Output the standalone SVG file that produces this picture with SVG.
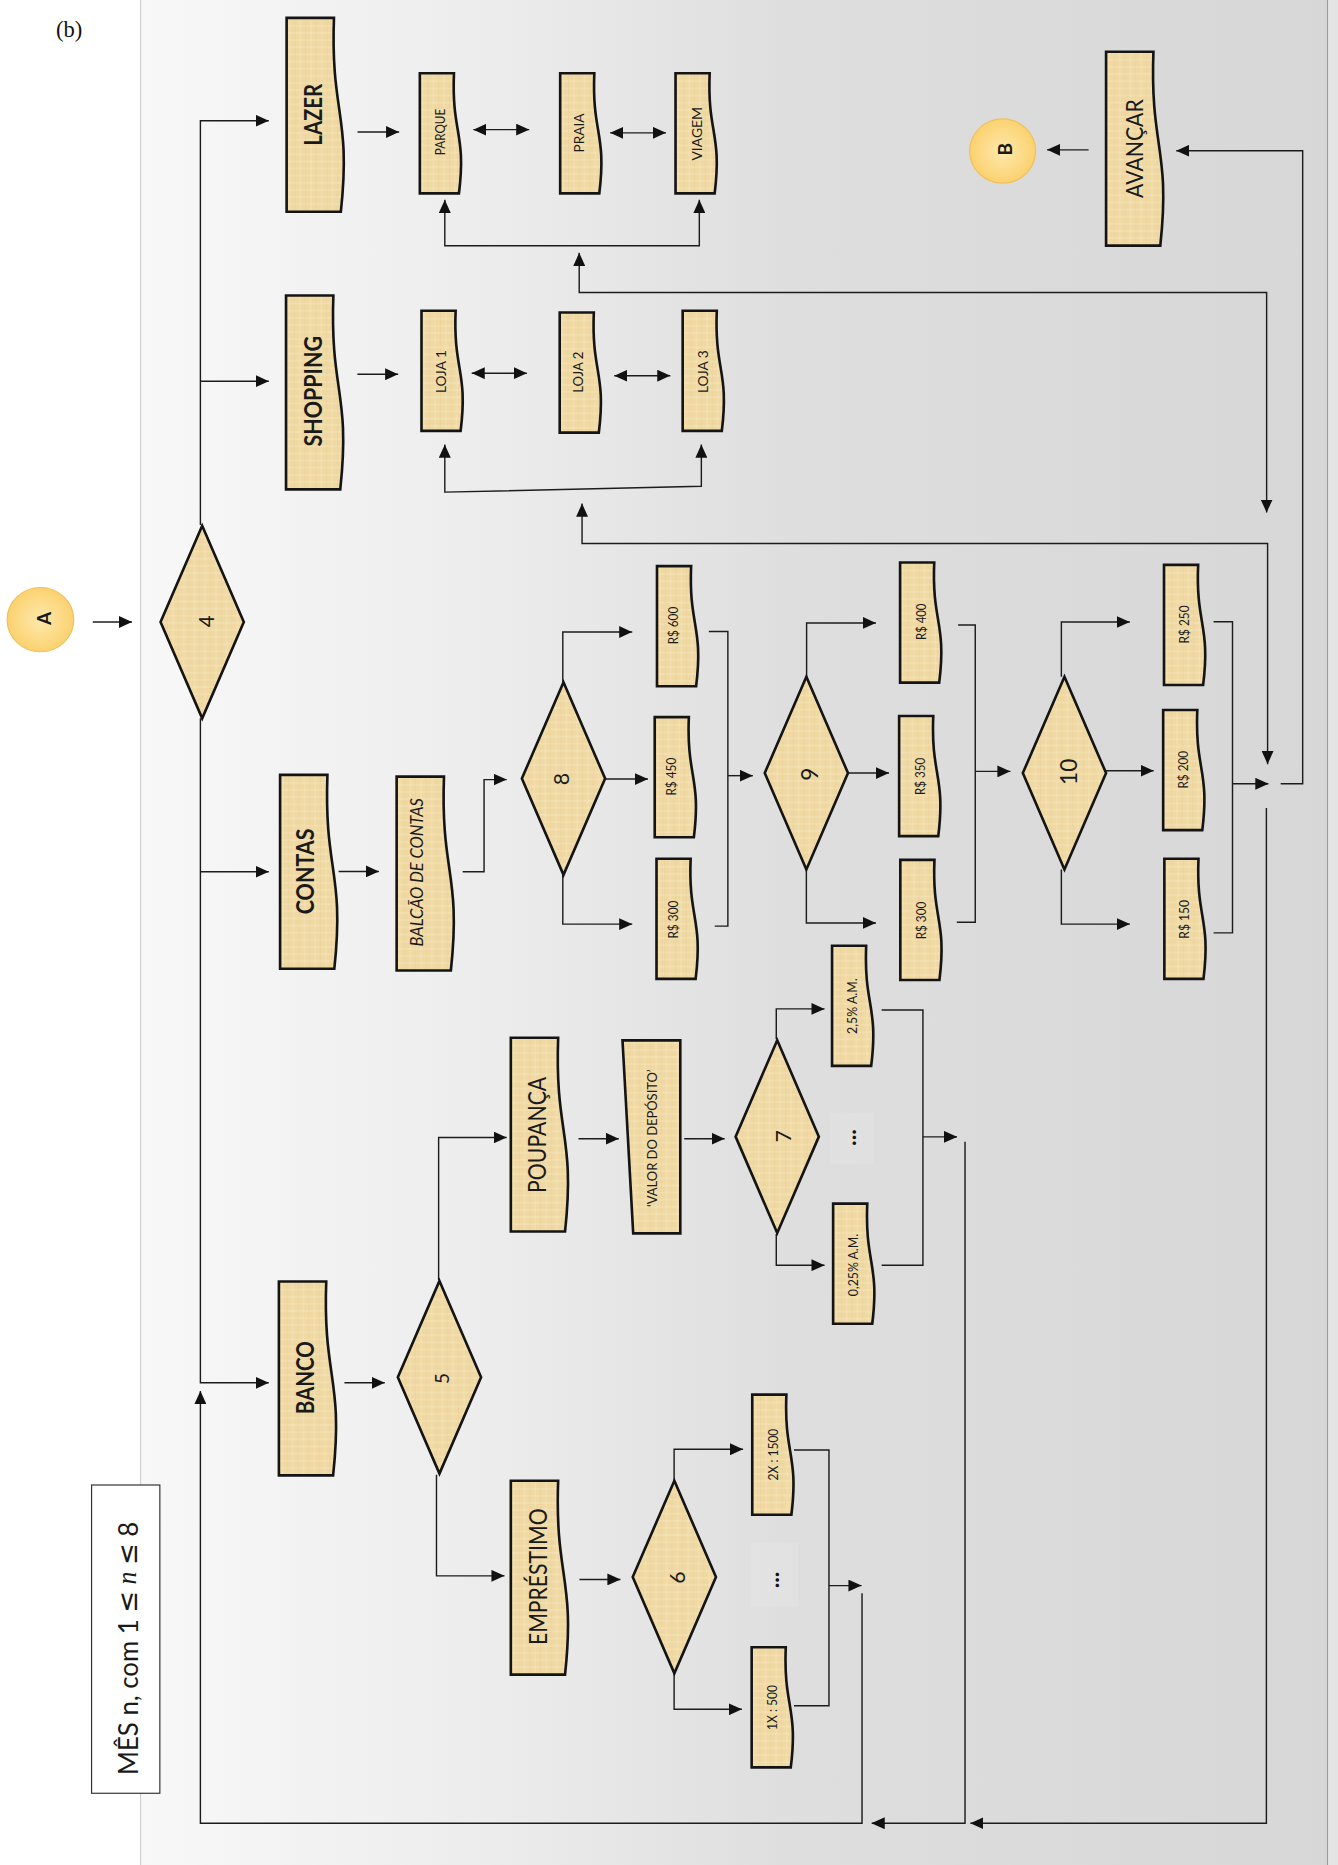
<svg xmlns="http://www.w3.org/2000/svg" xmlns:xlink="http://www.w3.org/1999/xlink" width="1338" height="1865" viewBox="0 0 1338 1865">
  <style>
    .ln { fill: none; stroke: #1c1c1c; stroke-width: 1.2; }
    .ar { marker-end: url(#ah); }
    .ar2 { marker-start: url(#ah); marker-end: url(#ah); }
    .box { fill: url(#pap); stroke: #141414; stroke-width: 2.2; stroke-linejoin: miter; }
    .lbl { font-family: Lato, "Open Sans", "DejaVu Sans", sans-serif; fill: #1a1a1a; text-anchor: middle; dominant-baseline: central; }
    .bold { font-weight: bold; }
    .xl { font-size: 21px; }
    .lg { font-size: 19.5px; }
    .md { font-size: 14px; }
    .sm { font-size: 11px; }
    .xs { font-size: 10.5px; }
    .dg { font-size: 18px; }
    .con { fill: url(#sun); stroke: #f0c15a; stroke-width: 1; }
    .dots { fill: #ffffff; opacity: 0.1; }
    .ell { font-family: Lato, "Open Sans", sans-serif; font-weight: bold; font-size: 19px; fill: #111; text-anchor: middle; dominant-baseline: central; }
  </style>
  <defs>
    <linearGradient id="panel" x1="0" y1="0" x2="1" y2="0">
      <stop offset="0" stop-color="#f8f8f8"/>
      <stop offset="0.3" stop-color="#ececec"/>
      <stop offset="0.55" stop-color="#dedede"/>
      <stop offset="1" stop-color="#d7d7d7"/>
    </linearGradient>
    <radialGradient id="sun" cx="0.5" cy="0.5" r="0.55">
      <stop offset="0" stop-color="#fee9ae"/>
      <stop offset="1" stop-color="#fbcf69"/>
    </radialGradient>
    <!-- papyrus-like fill with faint fibres -->
    <pattern id="pap" width="9" height="6" patternUnits="userSpaceOnUse">
      <rect width="9" height="6" fill="#efd8a2"/>
      <rect width="9" height="1.4" fill="#f5e5bd" opacity="0.5"/>
      <rect x="2" width="1" height="6" fill="#f6e7c2" opacity="0.45"/>
      <rect x="6.5" width="0.7" height="6" fill="#e4ca8f" opacity="0.35"/>
    </pattern>
    <marker id="ah" viewBox="0 0 11 10" markerWidth="11" markerHeight="10" refX="11" refY="5" markerUnits="userSpaceOnUse" orient="auto-start-reverse">
      <path d="M0,0 L11,5 L0,10 Z" fill="#111"/>
    </marker>
    <!-- document shape, wavy right edge: small and large sizes -->
    <path id="doc-s" d="M0,0 h28.7 c-2.1,50.5 10.5,50.5 4.2,101 h-32.9 z"/>
    <path id="doc-l" d="M0,0 h39.8 c-2.9,81.5 14.6,81.5 5.8,163 h-45.6 z"/>
    <polygon id="dia" points="0,-81 35,0 0,81 -35,0"/>
  </defs>

  <g transform="scale(1.18933)">
    <!-- backdrop -->
    <rect x="0" y="0" width="1125" height="1569" fill="#ffffff"/>
    <rect x="118.2" y="0" width="998" height="1569" fill="url(#panel)"/>
    <rect x="1116.2" y="0" width="9" height="1569" fill="#e4e4e4"/>
    <line x1="118.2" y1="0" x2="118.2" y2="1569" stroke="#cdcdcd" stroke-width="0.9"/>
    <line x1="1116.2" y1="0" x2="1116.2" y2="1569" stroke="#9a9a9a" stroke-width="0.9"/>

    <text x="47" y="31" font-family="Liberation Serif, serif" font-size="19" fill="#111">(b)</text>

    <!-- connectors -->
    <g id="connectors">
      <path class="ln ar" d="M78,523 H111"/>
      <path class="ln ar" d="M168.5,441.5 V101.5 H226"/>
      <path class="ln ar" d="M168.5,320.5 H226"/>
      <path class="ln ar" d="M168.5,604 V1162.7 H226"/>
      <path class="ln ar" d="M168.5,733 H226"/>
      <path class="ln ar" d="M724.8,1339.7 V1533 H168.5 V1169.5"/>

      <!-- leisure row -->
      <path class="ln ar" d="M300.6,111 H335.6"/>
      <path class="ln ar2" d="M398,109 H445"/>
      <path class="ln ar2" d="M513,111.7 H560"/>
      <path class="ln ar2" d="M374,168 V206.6 H588 V168"/>
      <path class="ln ar2" d="M487,212.6 V246 H1065 V431"/>

      <!-- shopping row -->
      <path class="ln ar" d="M300.5,314.7 H334.8"/>
      <path class="ln ar2" d="M396.6,313.8 H443"/>
      <path class="ln ar2" d="M516.5,315.9 H563.6"/>
      <path class="ln ar2" d="M374,373.8 V413.8 L589.7,408.9 V373.8"/>
      <path class="ln ar2" d="M489.4,423.4 V457 H1065.8 V642.5"/>

      <!-- bills row -->
      <path class="ln ar" d="M284.7,732.7 H318.6"/>
      <path class="ln ar" d="M389,733 H407 V655.5 H426"/>
      <path class="ln ar" d="M473.2,573.5 V531.4 H531.6"/>
      <path class="ln ar" d="M509,655 H544.8"/>
      <path class="ln ar" d="M473.2,735.8 V777 H531.6"/>
      <path class="ln" d="M596,531 H612 V778.7 H601"/>
      <path class="ln ar" d="M612,652.2 H633"/>
      <path class="ln ar" d="M678.2,570.6 V523.8 H736.5"/>
      <path class="ln ar" d="M712.5,650 H747.5"/>
      <path class="ln ar" d="M678,729.7 V776 H736.5"/>
      <path class="ln" d="M805.6,525.5 H820 V775.5 H804.5"/>
      <path class="ln ar" d="M820,648.6 H849.6"/>
      <path class="ln ar" d="M892.4,569 V523 H950"/>
      <path class="ln ar" d="M930,648 H970"/>
      <path class="ln ar" d="M892.4,731 V777 H950"/>
      <path class="ln" d="M1020.4,522.7 H1036.3 V784.4 H1020.4"/>
      <path class="ln ar" d="M1036.3,659 H1066.5"/>
      <path class="ln ar" d="M1076.8,659 H1095.3 V126.7 H989"/>
      <path class="ln ar" d="M1064.8,679.3 V1533 H815.9"/>
      <path class="ln ar" d="M915.3,126 H880.4"/>

      <!-- bank row -->
      <path class="ln ar" d="M289.6,1162.7 H323.5"/>
      <path class="ln ar" d="M368.8,1076.5 V956.4 H426"/>
      <path class="ln ar" d="M367,1240 V1325 H424.2"/>
      <path class="ln ar" d="M486.4,957.4 H520.3"/>
      <path class="ln ar" d="M575.3,957.4 H609.3"/>
      <path class="ln ar" d="M652.7,873.9 V848.3 H693.3"/>
      <path class="ln ar" d="M652.7,1037.5 V1063.8 H693.3"/>
      <path class="ln" d="M741.3,849.2 H776 V1063.8 H741.3"/>
      <path class="ln ar" d="M776,955.9 H804.7"/>
      <path class="ln ar" d="M811.4,960 V1533 H732.9"/>
      <path class="ln ar" d="M487.2,1328 H521.7"/>
      <path class="ln ar" d="M566.8,1245.8 V1218.6 H624.8"/>
      <path class="ln ar" d="M566.8,1406.4 V1437.2 H623.8"/>
      <path class="ln" d="M667.6,1219.2 H697 V1434.2 H667.6"/>
      <path class="ln ar" d="M697,1333.2 H724.4"/>
    </g>

    <!-- start / end connectors -->
    <g id="n-a">
      <ellipse class="con" cx="34" cy="521" rx="28" ry="27"/>
      <text class="lbl bold" font-size="16" transform="translate(36.2,520) rotate(-90)">A</text>
    </g>
    <g id="n-b">
      <ellipse class="con" cx="843" cy="127" rx="27.7" ry="27"/>
      <text class="lbl bold" font-size="16" transform="translate(845,125.5) rotate(-90)">B</text>
    </g>

    <!-- decisions -->
    <g id="n-d4"><use href="#dia" x="170" y="523" class="box"/><text class="lbl" font-size="17" transform="translate(173,522.5) rotate(-90)">4</text></g>
    <g id="n-d8"><use href="#dia" x="473.8" y="654.6" class="box"/><text class="lbl dg" transform="translate(472,655) rotate(-90)">8</text></g>
    <g id="n-d9"><use href="#dia" x="678" y="650" class="box"/><text class="lbl" font-size="19" transform="translate(681,651) rotate(-90)">9</text></g>
    <g id="n-d10"><use href="#dia" x="895" y="650" class="box"/><text class="lbl" font-size="19" transform="translate(898.3,649) rotate(-90)">10</text></g>
    <g id="n-d5"><use href="#dia" x="369.5" y="1158" class="box"/><text class="lbl" font-size="16" transform="translate(371.5,1159) rotate(-90)">5</text></g>
    <g id="n-d7"><use href="#dia" x="653.5" y="955.7" class="box"/><text class="lbl dg" transform="translate(658,955.5) rotate(-90)">7</text></g>
    <g id="n-d6"><use href="#dia" x="567" y="1326" class="box"/><text class="lbl dg" transform="translate(569.5,1326.4) rotate(-90)">6</text></g>

    <!-- leisure -->
    <g id="n-lazer"><use href="#doc-l" x="241" y="15" class="box"/><text class="lbl bold xl" textLength="52" lengthAdjust="spacingAndGlyphs" transform="translate(262.5,96.5) rotate(-90)">LAZER</text></g>
    <g id="n-parque"><use href="#doc-s" x="353" y="61.6" class="box"/><text class="lbl xs" textLength="39" lengthAdjust="spacingAndGlyphs" transform="translate(370,111) rotate(-90)">PARQUE</text></g>
    <g id="n-praia"><use href="#doc-s" x="471" y="61.6" class="box"/><text class="lbl xs" textLength="32.7" lengthAdjust="spacingAndGlyphs" transform="translate(487,111.8) rotate(-90)">PRAIA</text></g>
    <g id="n-viagem"><use href="#doc-s" x="568" y="61.6" class="box"/><text class="lbl xs" textLength="45" lengthAdjust="spacingAndGlyphs" transform="translate(586.5,112.5) rotate(-90)">VIAGEM</text></g>

    <!-- shopping -->
    <g id="n-shopping"><use href="#doc-l" x="240.5" y="248.5" class="box"/><text class="lbl bold xl" textLength="93" lengthAdjust="spacingAndGlyphs" transform="translate(262,329) rotate(-90)">SHOPPING</text></g>
    <g id="n-loja1"><use href="#doc-s" x="354.4" y="261.3" class="box"/><text class="lbl xs" textLength="36" lengthAdjust="spacingAndGlyphs" transform="translate(371,312.4) rotate(-90)">LOJA 1</text></g>
    <g id="n-loja2"><use href="#doc-s" x="470.6" y="262.8" class="box"/><text class="lbl xs" textLength="34.6" lengthAdjust="spacingAndGlyphs" transform="translate(486.5,313) rotate(-90)">LOJA 2</text></g>
    <g id="n-loja3"><use href="#doc-s" x="574" y="261.3" class="box"/><text class="lbl xs" textLength="36" lengthAdjust="spacingAndGlyphs" transform="translate(591.5,312.5) rotate(-90)">LOJA 3</text></g>

    <!-- advance -->
    <g id="n-avancar"><use href="#doc-l" x="930" y="43.5" class="box"/><text class="lbl lg" textLength="83" lengthAdjust="spacingAndGlyphs" transform="translate(953.3,125) rotate(-90)">AVANÇAR</text></g>

    <!-- bills -->
    <g id="n-contas"><use href="#doc-l" x="235.5" y="651.5" class="box"/><text class="lbl bold xl" textLength="72" lengthAdjust="spacingAndGlyphs" transform="translate(256,732.7) rotate(-90)">CONTAS</text></g>
    <g id="n-balcao"><use href="#doc-l" x="333.5" y="653" class="box"/><text class="lbl md" font-style="italic" textLength="124.7" lengthAdjust="spacingAndGlyphs" transform="translate(351,733.4) rotate(-90)">BALCÃO DE CONTAS</text></g>
    <g id="n-r600"><use href="#doc-s" x="552.4" y="476" class="box"/><text class="lbl sm" textLength="31.6" lengthAdjust="spacingAndGlyphs" transform="translate(566,526) rotate(-90)">R$ 600</text></g>
    <g id="n-r450"><use href="#doc-s" x="550.5" y="603" class="box"/><text class="lbl sm" textLength="31.8" lengthAdjust="spacingAndGlyphs" transform="translate(564,653) rotate(-90)">R$ 450</text></g>
    <g id="n-r300a"><use href="#doc-s" x="552" y="722" class="box"/><text class="lbl sm" textLength="32" lengthAdjust="spacingAndGlyphs" transform="translate(566,773.2) rotate(-90)">R$ 300</text></g>
    <g id="n-r400"><use href="#doc-s" x="756.8" y="473" class="box"/><text class="lbl sm" textLength="30.6" lengthAdjust="spacingAndGlyphs" transform="translate(774.4,522.8) rotate(-90)">R$ 400</text></g>
    <g id="n-r350"><use href="#doc-s" x="756" y="602" class="box"/><text class="lbl sm" textLength="31.2" lengthAdjust="spacingAndGlyphs" transform="translate(773.6,652.8) rotate(-90)">R$ 350</text></g>
    <g id="n-r300b"><use href="#doc-s" x="757" y="723" class="box"/><text class="lbl sm" textLength="31.6" lengthAdjust="spacingAndGlyphs" transform="translate(774.4,774) rotate(-90)">R$ 300</text></g>
    <g id="n-r250"><use href="#doc-s" x="978.7" y="475" class="box"/><text class="lbl sm" textLength="32" lengthAdjust="spacingAndGlyphs" transform="translate(995.7,525) rotate(-90)">R$ 250</text></g>
    <g id="n-r200"><use href="#doc-s" x="978" y="597" class="box"/><text class="lbl sm" textLength="31.6" lengthAdjust="spacingAndGlyphs" transform="translate(994.8,647.2) rotate(-90)">R$ 200</text></g>
    <g id="n-r150"><use href="#doc-s" x="979" y="722" class="box"/><text class="lbl sm" textLength="32.5" lengthAdjust="spacingAndGlyphs" transform="translate(995.7,773) rotate(-90)">R$ 150</text></g>

    <!-- bank -->
    <g id="n-banco"><use href="#doc-l" x="234.5" y="1077.5" class="box"/><text class="lbl bold xl" textLength="61.6" lengthAdjust="spacingAndGlyphs" transform="translate(255.6,1158.4) rotate(-90)">BANCO</text></g>
    <g id="n-poupanca"><use href="#doc-l" x="429.5" y="872.5" class="box"/><text class="lbl xl" textLength="97.6" lengthAdjust="spacingAndGlyphs" transform="translate(450.8,954.2) rotate(-90)">POUPANÇA</text></g>
    <g id="n-deposito"><path class="box" d="M523.4,874.8 H572 V1037 H532.4 Z"/><text class="lbl" font-size="11.5" textLength="115.7" lengthAdjust="spacingAndGlyphs" transform="translate(548,957) rotate(-90)">‘VALOR DO DEPÓSITO’</text></g>
    <g id="n-j25"><use href="#doc-s" x="699.6" y="795.2" class="box"/><text class="lbl sm" textLength="46.6" lengthAdjust="spacingAndGlyphs" transform="translate(716,846) rotate(-90)">2,5% A.M.</text></g>
    <g id="n-jmore"><rect class="dots" x="697.7" y="935.4" width="37" height="43.3"/><text class="ell" textLength="14" lengthAdjust="spacingAndGlyphs" transform="translate(712.8,956.5) rotate(-90)">...</text></g>
    <g id="n-j025"><use href="#doc-s" x="700.5" y="1012" class="box"/><text class="lbl sm" textLength="52.5" lengthAdjust="spacingAndGlyphs" transform="translate(717.5,1063.7) rotate(-90)">0,25% A.M.</text></g>
    <g id="n-emprestimo"><use href="#doc-l" x="429.5" y="1245" class="box"/><text class="lbl xl" textLength="115" lengthAdjust="spacingAndGlyphs" transform="translate(451.2,1325.7) rotate(-90)">EMPRÉSTIMO</text></g>
    <g id="n-p2x"><use href="#doc-s" x="632.5" y="1172.6" class="box"/><text class="lbl sm" textLength="43.5" lengthAdjust="spacingAndGlyphs" transform="translate(650,1223) rotate(-90)">2X : 1500</text></g>
    <g id="n-pmore"><rect class="dots" x="631.6" y="1297.5" width="40" height="53.5"/><text class="ell" textLength="14" lengthAdjust="spacingAndGlyphs" transform="translate(648,1328.5) rotate(-90)">...</text></g>
    <g id="n-p1x"><use href="#doc-s" x="632" y="1385" class="box"/><text class="lbl sm" textLength="37.8" lengthAdjust="spacingAndGlyphs" transform="translate(649.3,1435.7) rotate(-90)">1X : 500</text></g>

    <!-- month caption -->
    <g id="n-mes">
      <rect x="77" y="1248.6" width="57.4" height="259.2" fill="#ffffff" stroke="#333" stroke-width="1"/>
      <text class="lbl" font-size="23" textLength="213" lengthAdjust="spacingAndGlyphs" transform="translate(107,1386) rotate(-90)">MÊS n, com 1 <tspan font-family="DejaVu Sans, sans-serif">≤</tspan> <tspan font-family="Liberation Serif, serif" font-style="italic">n</tspan> <tspan font-family="DejaVu Sans, sans-serif">≤</tspan> 8</text>
    </g>
  </g>
</svg>
